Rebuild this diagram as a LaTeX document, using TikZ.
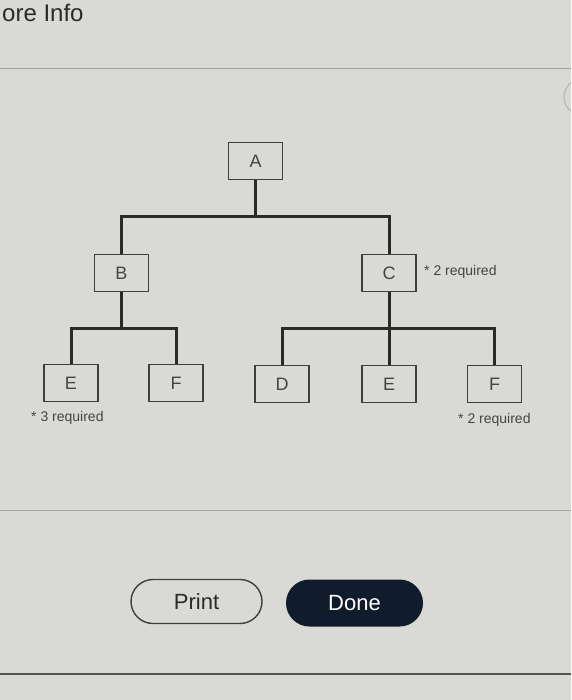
\documentclass[tikz,border=0pt]{standalone}
\usepackage{fontspec}
\setmainfont{Liberation Sans}
\usetikzlibrary{positioning,calc,shapes.misc}

\definecolor{screen}{HTML}{D9D9D6}
\definecolor{ink}{HTML}{2A2A2A}
\definecolor{txt}{HTML}{444444}
\definecolor{navy}{HTML}{101B2B}

\tikzset{
    part/.style={draw=ink!90, line width=1.4pt, minimum width=54pt, minimum height=37pt, inner sep=0pt, text=txt, font=\fontsize{18}{20}\selectfont},
    link/.style={draw=ink, line width=3pt},
    note/.style={text=txt, font=\fontsize{14}{16}\selectfont, inner sep=0pt},
    button/.style={rounded rectangle, minimum height=44pt, inner sep=0pt, font=\fontsize{22}{26}\selectfont}
}

\begin{document}
\begin{tikzpicture}[x=1pt,y=-1pt]
    \useasboundingbox (0,0) rectangle (571,700);
    \clip (0,0) rectangle (571,700);
    \fill[screen] (0,0) rectangle (571,700);
    \draw[gray!75,line width=0.8pt] (0,68) -- (571,68);
    \draw[gray!70,line width=0.8pt] (0,510) -- (571,510);
    \draw[ink!80,line width=1.4pt] (0,674) -- (571,674);
    \draw[gray!60,line width=1pt] (582,97) circle (18);
    \node[anchor=base west, inner sep=0pt, text=ink, font=\fontsize{24}{28}\selectfont] (title) at (2,22) {ore Info};

    \node[part] (A) at (255.5,161) {A};
    \node[part] (B) at (121.5,273) {B};
    \node[part] (C) at (389,273) {C};
    \node[part] (E1) at (71,383) {E};
    \node[part] (F1) at (176,383) {F};
    \node[part] (D) at (282,384) {D};
    \node[part] (E2) at (389,384) {E};
    \node[part] (F2) at (494.5,384) {F};

    \node[note, anchor=west] (Cnote) at (424,272) {* 2 required};
    \node[note, anchor=west] (E1note) at (31,418) {* 3 required};
    \node[note, anchor=west] (F2note) at (458,420) {* 2 required};

    \coordinate (Ajoin) at (255.5,217);
    \coordinate (Bjoin) at (121.5,328);
    \coordinate (Cjoin) at (389,328);

    \draw[link] (A) -- (Ajoin);
    \draw[link] (B) |- (Ajoin) -| (C);
    \draw[link] (B) -- (Bjoin);
    \draw[link] (E1) |- (Bjoin) -| (F1);
    \draw[link] (C) -- (Cjoin);
    \draw[link] (D) |- (Cjoin) -| (F2);
    \draw[link] (Cjoin) -- (E2);

    \node[button, draw=ink!90, line width=1.4pt, minimum width=131pt, text=ink] (print) at (196.5,601.5) {Print};
    \node[button, fill=navy, minimum width=137pt, minimum height=47pt, text=white] (done) at (354.5,603) {Done};
\end{tikzpicture}
\end{document}
